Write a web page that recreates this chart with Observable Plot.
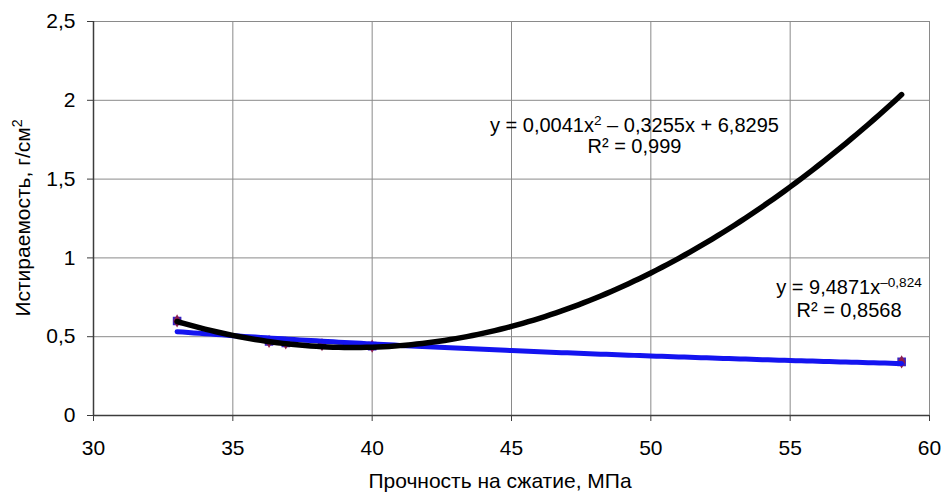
<!DOCTYPE html>
<html>
<head>
<meta charset="utf-8">
<script src="https://cdn.jsdelivr.net/npm/d3@7"></script>
<script src="https://cdn.jsdelivr.net/npm/@observablehq/plot@0.6"></script>
<style>
  html, body { margin: 0; padding: 0; background: #fff; }
  #chart svg { display: block; }
</style>
</head>
<body>
<div id="chart"></div>
<script>
// ---- data ----
const xTicks = [30, 35, 40, 45, 50, 55, 60];
const yTicks = [0, 0.5, 1, 1.5, 2, 2.5];
const strength = [33, 36.3, 36.9, 38.2, 40, 59];          // МПа
const abrasion = [0.60, 0.47, 0.46, 0.45, 0.44, 0.34];     // г/см²
// trendline coefficients (as in the labels)
const quadCoef = [0.00414, -0.3255, 6.8295];   // a x² + b x + c
const powCoef = [9.4871, -0.824];              // A x^k
const trendRange = [33, 59];
const xLabel = "Прочность на сжатие, МПа";
const yLabel = "Истираемость, г/см";
// annotation anchors (data coordinates)
const quadLabelPos = [[49.43, 1.843], [49.43, 1.707]];
const powLabelPos = [[57.13, 0.812], [57.13, 0.666]];

const fmt = d => String(d).replace(".", ",");
const points = strength.map((x, i) => ({x, y: abrasion[i]}));
const xs = d3.range(trendRange[0], trendRange[1] + 0.001, 0.2);
const quadCurve = xs.map(x => ({x, y: quadCoef[0] * x * x + quadCoef[1] * x + quadCoef[2]}));
const powCurve = xs.map(x => ({x, y: powCoef[0] * Math.pow(x, powCoef[1])}));

const font = "'Liberation Sans', Arial, sans-serif";

const chart = Plot.plot({
  width: 944,
  height: 492,
  marginLeft: 93,
  marginRight: 15,
  marginTop: 21,
  marginBottom: 77,
  style: {fontFamily: font, fontSize: "21px", color: "#000", background: "#fff", overflow: "visible"},
  x: {domain: [30, 60], ticks: xTicks, tickSize: 6, tickPadding: 19, tickFormat: fmt, label: null},
  y: {domain: [0, 2.5], ticks: yTicks, tickSize: 6, tickPadding: 12, tickFormat: fmt, label: null},
  marks: [
    Plot.ruleX(xTicks, {stroke: "#8a8a8a", strokeWidth: 1}),
    Plot.ruleY(yTicks, {stroke: "#8a8a8a", strokeWidth: 1}),
    Plot.ruleX([30], {stroke: "#3c3c3c", strokeWidth: 1.5}),
    Plot.ruleY([0], {stroke: "#3c3c3c", strokeWidth: 1.5}),
    Plot.dot(points, {x: "x", y: "y", symbol: "square", r: 4, fill: "#4a2aa8", stroke: "#3a22c0"}),
    Plot.dot(points, {x: "x", y: "y", symbol: "diamond", r: 4, fill: "#8e1e4e"}),
    Plot.line(powCurve, {x: "x", y: "y", stroke: "#1414f0", strokeWidth: 5, strokeLinecap: "round"}),
    Plot.line(quadCurve, {x: "x", y: "y", stroke: "#000", strokeWidth: 5.5, strokeLinecap: "round"})
  ]
});

document.getElementById("chart").appendChild(chart);

const svg = d3.select(chart);
svg.selectAll("[aria-label='x-axis tick'] path, [aria-label='y-axis tick'] path").attr("stroke", "#3c3c3c");

const sx = chart.scale("x"), sy = chart.scale("y");

function addText(x, y, parts, opts = {}) {
  const t = svg.append("text")
    .attr("x", x).attr("y", y)
    .attr("text-anchor", opts.anchor || "middle")
    .attr("dy", opts.dy == null ? "0.35em" : opts.dy)
    .attr("font-family", font)
    .attr("font-size", opts.size || 20)
    .attr("fill", "#000");
  if (opts.rotate) t.attr("transform", `rotate(-90, ${x}, ${y})`);
  for (const p of parts) {
    const s = t.append("tspan").text(p.t);
    if (p.sup) s.attr("font-size", "0.68em").attr("baseline-shift", "super");
  }
  return t;
}

// trendline equations
addText(sx.apply(quadLabelPos[0][0]), sy.apply(quadLabelPos[0][1]),
  [{t: "y = 0,0041x"}, {t: "2", sup: true}, {t: " – 0,3255x + 6,8295"}]);
addText(sx.apply(quadLabelPos[1][0]), sy.apply(quadLabelPos[1][1]),
  [{t: "R² = 0,999"}]);
addText(sx.apply(powLabelPos[0][0]), sy.apply(powLabelPos[0][1]),
  [{t: "y = 9,4871x"}, {t: "–0,824", sup: true}]);
addText(sx.apply(powLabelPos[1][0]), sy.apply(powLabelPos[1][1]),
  [{t: "R² = 0,8568"}]);

// axis titles
addText((sx.apply(30) + sx.apply(60)) / 2 - 11, 488, [{t: xLabel}], {size: 21, dy: 0});
addText(23, (sy.apply(0) + sy.apply(2.5)) / 2, [{t: yLabel}, {t: "2", sup: true}], {rotate: true, size: 21});
</script>
</body>
</html>
